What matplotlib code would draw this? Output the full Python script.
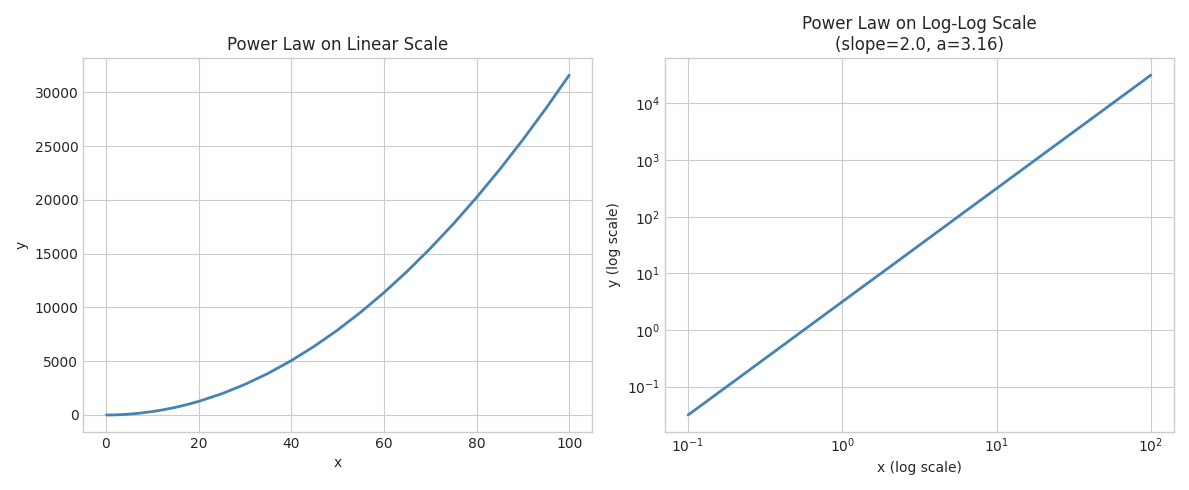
import matplotlib
matplotlib.use("Agg")
import matplotlib.pyplot as plt

plt.style.use("seaborn-v0_8-whitegrid")
plt.rcParams['font.family'] = ['DejaVu Sans']

# values
x_vals = [0.1, 0.15, 0.2, 0.3, 0.5, 0.7, 1, 1.5, 2, 3, 5, 7, 10, 12.5, 15, 17.5, 20, 25, 30, 35, 40,
          45, 50, 55, 60, 65, 70, 75, 80, 85, 90, 95, 100]
y_vals = [0.0316, 0.0711, 0.126, 0.284, 0.79, 1.55, 3.16, 7.11, 12.6, 28.4, 79, 155, 316,
          494, 711, 968, 1264, 1975, 2844, 3871, 5056, 6399, 7900, 9559, 11376, 13351, 15484,
          17775, 20224, 22831, 25596, 28519, 31600]

fig, (ax1, ax2) = plt.subplots(1, 2, figsize=(11.89, 4.9), dpi=100)

ax1.plot(x_vals, y_vals, color="steelblue", lw=2)
ax1.set_title("Power Law on Linear Scale")
ax1.set_xlabel("x")
ax1.set_ylabel("y")

ax2.loglog(x_vals, y_vals, color="steelblue", lw=2)
ax2.set_title("Power Law on Log-Log Scale\n(slope=2.0, a=3.16)")
ax2.set_xlabel("x (log scale)")
ax2.set_ylabel("y (log scale)")

for ax in (ax1, ax2):
    for s in ax.spines.values():
        s.set_visible(True)
        s.set_color("#cccccc")

fig.tight_layout()
fig.savefig("out.png", dpi=100)
